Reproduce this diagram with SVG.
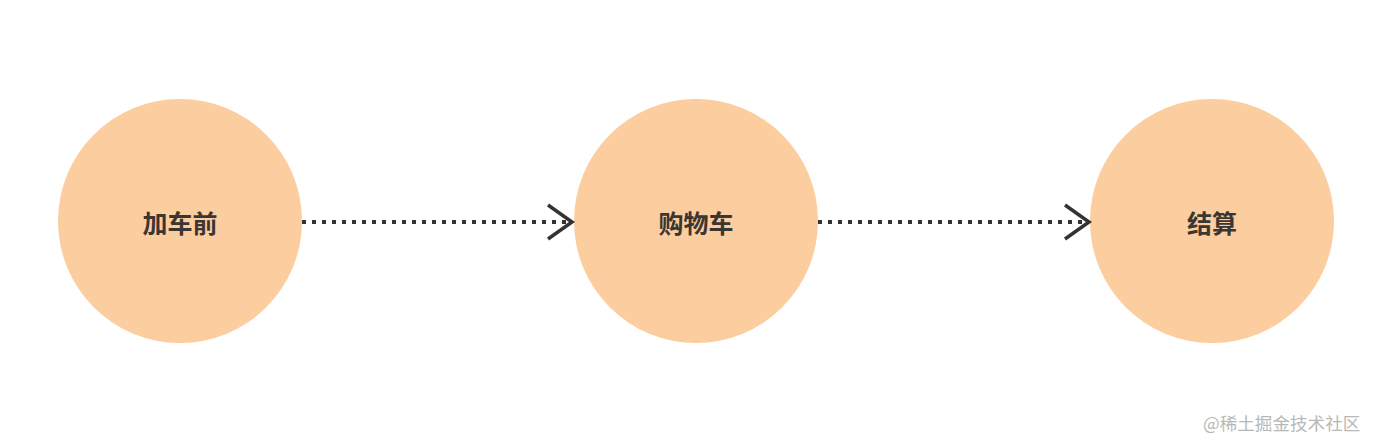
<svg xmlns="http://www.w3.org/2000/svg" width="1378" height="448" viewBox="0 0 1378 448">
<style>
.node{fill:#fccd9e}
.label{font-family:"Noto Sans CJK SC","Noto Sans",sans-serif;font-size:25px;font-weight:bold;fill:#3a3632;text-anchor:middle;dominant-baseline:central}
.edge{stroke:#333;stroke-width:4;stroke-dasharray:4 6;fill:none}
.head{stroke:#333;stroke-width:3.5;fill:none;stroke-linecap:butt;stroke-linejoin:miter}
.wm{font-family:"Noto Sans CJK SC","Noto Sans",sans-serif;font-size:17.6px;fill:#b8b8b8}
</style>
<rect width="1378" height="448" fill="#ffffff"/>
<g id="node-1">
<circle class="node" cx="180" cy="221" r="122"/>
<text class="label" x="180" y="222">加车前</text>
</g>
<g id="node-2">
<circle class="node" cx="696" cy="221" r="122"/>
<text class="label" x="696" y="222">购物车</text>
</g>
<g id="node-3">
<circle class="node" cx="1212" cy="221" r="122"/>
<text class="label" x="1212" y="222">结算</text>
</g>
<g id="connectors">
<line class="edge" x1="302" y1="222" x2="570" y2="222"/>
<polyline class="head" points="548,205 572,222 548,239"/>
<line class="edge" x1="818" y1="222" x2="1086" y2="222"/>
<polyline class="head" points="1065,205 1089,222 1065,239"/>
</g>
<text class="wm" x="1203" y="430">@稀土掘金技术社区</text>
</svg>
